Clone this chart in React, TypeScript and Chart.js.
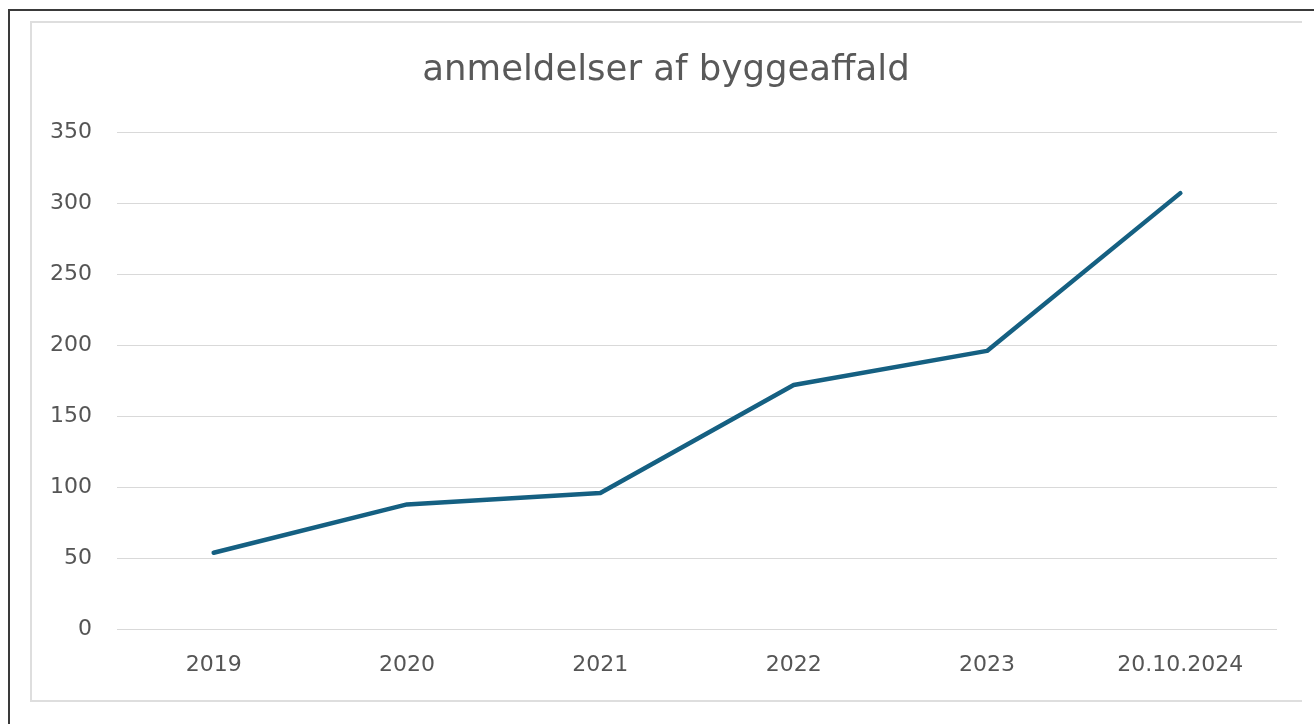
import React, { useEffect, useRef } from "react";
import { Chart, registerables } from "chart.js";

Chart.register(...registerables);

const categories = ["2019", "2020", "2021", "2022", "2023", "20.10.2024"];
const seriesValues = [54, 88, 96, 172, 196, 307];
const yTicks = [0, 50, 100, 150, 200, 250, 300, 350];
const titleText = "anmeldelser af byggeaffald";

const FONT = "'DejaVu Sans', sans-serif";

export default function App() {
  const canvasRef = useRef<HTMLCanvasElement | null>(null);

  useEffect(() => {
    const ctx = canvasRef.current!;
    const chart = new Chart(ctx, {
      type: "line",
      data: {
        labels: categories,
        datasets: [
          {
            data: seriesValues,
            borderColor: "#156082",
            backgroundColor: "#156082",
            borderWidth: 4.5,
            pointRadius: 0,
            pointHoverRadius: 0,
            tension: 0,
            borderCapStyle: "round",
            borderJoinStyle: "round",
            yAxisID: "y",
          },
        ],
      },
      options: {
        animation: false,
        responsive: false,
        maintainAspectRatio: false,
        layout: { padding: { left: 0, right: 0, top: 0, bottom: 0 } },
        plugins: {
          legend: { display: false },
          tooltip: { enabled: false },
          title: {
            display: true,
            text: titleText,
            color: "#595959",
            font: { family: FONT, size: 35.5, weight: "normal", lineHeight: 1.2 },
            padding: { top: 26, bottom: 40.4 },
          },
        },
        scales: {
          x: {
            offset: true,
            grid: { display: false, drawTicks: false },
            border: { display: false },
            ticks: {
              color: "#555555",
              font: { family: FONT, size: 22 },
              padding: 23,
              maxRotation: 0,
              autoSkip: false,
            },
            afterFit: (scale: any) => {
              scale.height = 69.5;
            },
          },
          y: {
            min: 0,
            max: 350,
            afterBuildTicks: (scale: any) => {
              scale.ticks = yTicks.map((v) => ({ value: v }));
            },
            grid: { color: "#d9d9d9", lineWidth: 1, drawTicks: false },
            border: { display: false },
            ticks: {
              color: "#555555",
              font: { family: FONT, size: 22 },
              padding: 25,
            },
            afterFit: (scale: any) => {
              scale.width = 85;
            },
          },
          yRight: {
            position: "right",
            display: true,
            grid: { display: false, drawTicks: false },
            border: { display: false },
            ticks: { display: false },
            afterFit: (scale: any) => {
              scale.width = 23;
            },
          },
        },
      },
    } as any);
    return () => chart.destroy();
  }, []);

  return (
    <div style={{ position: "fixed", left: 0, top: 0, width: "100vw", height: "100vh", overflow: "hidden", background: "#ffffff" }}>
      <div
        style={{
          position: "absolute",
          left: 8,
          top: 9,
          width: 1400,
          height: 800,
          borderLeft: "2px solid #3a3a3a",
          borderTop: "2px solid #3a3a3a",
        }}
      />
      <div
        style={{
          position: "absolute",
          left: 30,
          top: 21,
          width: 1270,
          height: 677,
          borderLeft: "2px solid #dedede",
          borderTop: "2px solid #dedede",
          borderBottom: "2px solid #dedede",
        }}
      />
      <canvas
        ref={canvasRef}
        width={1268}
        height={676}
        style={{ position: "absolute", left: 32, top: 23, width: 1268, height: 676 }}
      />
    </div>
  );
}
